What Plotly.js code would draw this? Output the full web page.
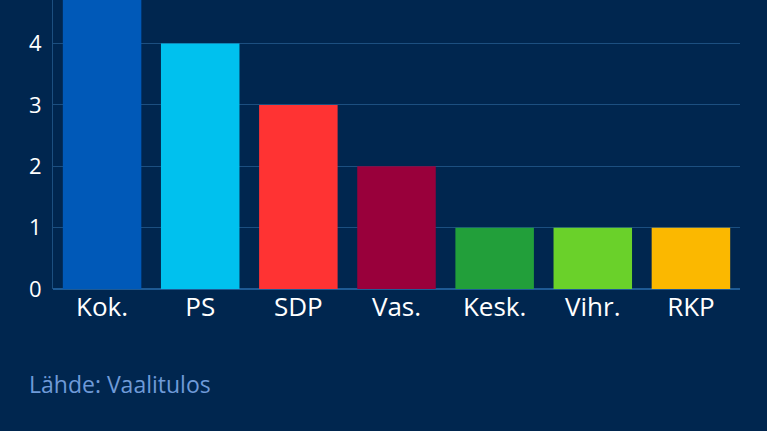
<!DOCTYPE html>
<html>
<head>
<meta charset="utf-8">
<script src="https://cdn.plot.ly/plotly-3.0.1.min.js"></script>
<style>
  html, body { margin: 0; padding: 0; background: #00264f; }
  #chart { width: 767px; height: 431px; }
</style>
</head>
<body>
<div id="chart"></div>
<script>
// seat counts per party
var parties = ["Kok.", "PS", "SDP", "Vas.", "Kesk.", "Vihr.", "RKP"];
var seats = [5, 4, 3, 2, 1, 1, 1];
var partyColors = ["#0059b8", "#00c1ee", "#ff3333", "#99003b", "#229f3a", "#6ad12a", "#fbb800"];
var yTicks = [0, 1, 2, 3, 4];

var bg = "#00264f";
var gridCol = "#1c4f80";

Plotly.newPlot("chart", [{
  type: "bar",
  x: parties,
  y: seats,
  marker: { color: partyColors, line: { width: 0 } },
  hoverinfo: "none"
}], {
  width: 767,
  height: 431,
  margin: { l: 53, r: 27, t: 0, b: 142 },
  paper_bgcolor: bg,
  plot_bgcolor: bg,
  font: { family: "Open Sans, sans-serif", color: "#ffffff" },
  bargap: 0.2,
  showlegend: false,
  xaxis: {
    tickfont: { size: 26, color: "#ffffff" },
    showgrid: false,
    showline: false,
    ticks: "",
    ticklabelstandoff: 0,
    fixedrange: true
  },
  yaxis: {
    range: [0, 4.71],
    tickvals: yTicks,
    tickfont: { size: 22, color: "#ffffff" },
    showgrid: true,
    gridcolor: gridCol,
    gridwidth: 1,
    zeroline: true,
    zerolinecolor: "#1e5a94",
    zerolinewidth: 2,
    showline: true,
    linecolor: gridCol,
    linewidth: 1,
    ticks: "",
    ticklabelstandoff: 6,
    fixedrange: true
  },
  annotations: [{
    text: "Lähde: Vaalitulos",
    xref: "paper", yref: "paper",
    x: -0.038, y: -0.329,
    xanchor: "left", yanchor: "middle",
    showarrow: false,
    font: { size: 23, color: "#6f9ad8" }
  }]
}, { staticPlot: true });
</script>
</body>
</html>
